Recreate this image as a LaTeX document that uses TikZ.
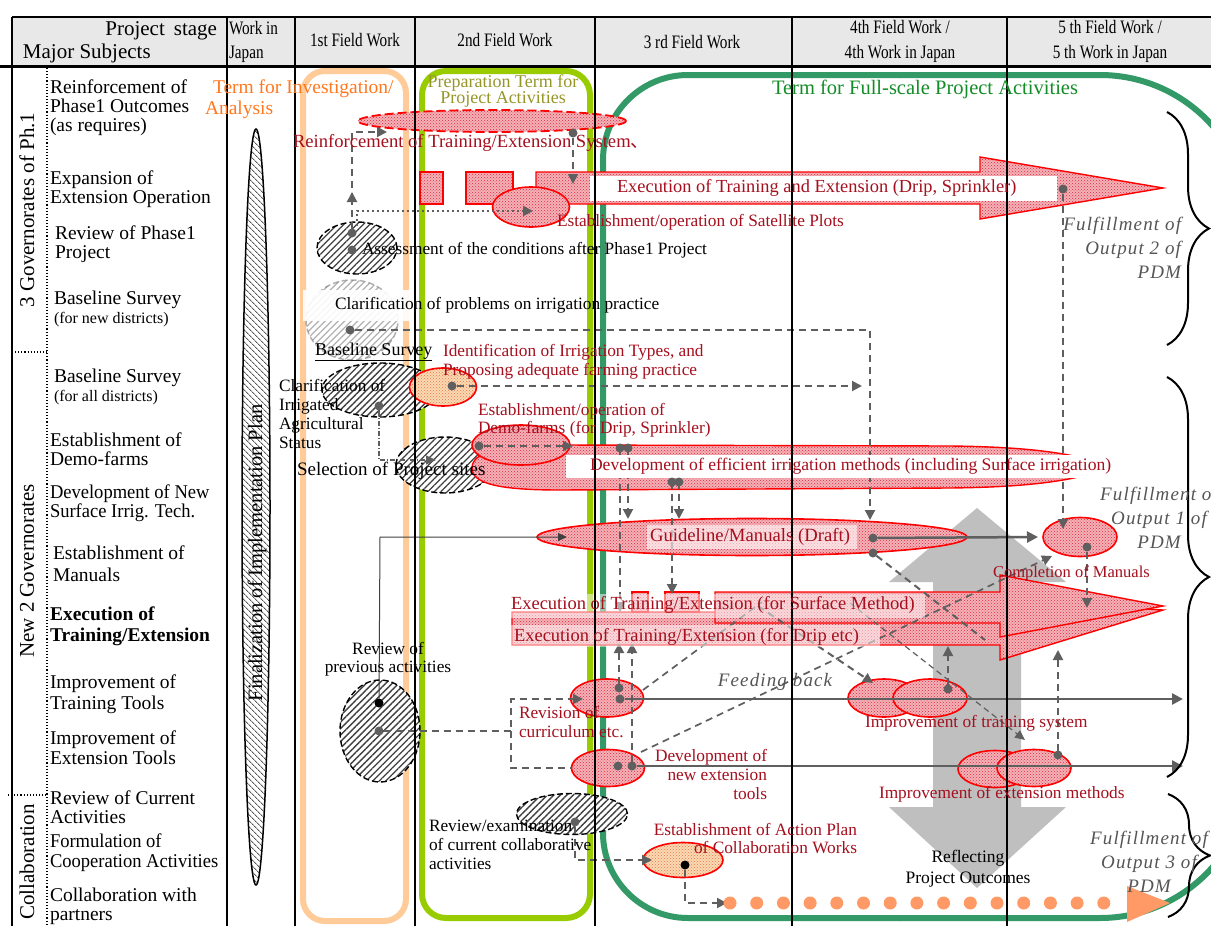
\documentclass[tikz,border=0pt]{standalone}
\usepackage{fontspec}
\setmainfont{Liberation Serif}
\newfontfamily\condfont[FakeStretch=0.8]{Liberation Serif}
\newfontfamily\semicond[FakeStretch=0.95]{Liberation Serif}
\newfontfamily\spacedfont[LetterSpace=6]{Liberation Serif}
\newfontfamily\cjkfont{Noto Sans CJK JP}
\usetikzlibrary{shapes.geometric,patterns,patterns.meta,arrows.meta,decorations.pathreplacing}
\newcommand\fsz[2]{\fontsize{#1}{#2}\selectfont}

\definecolor{hdrgray}{RGB}{232,232,232}
\definecolor{dred}{RGB}{165,15,30}
\definecolor{pinkc}{RGB}{243,178,184}
\definecolor{dotred}{RGB}{225,40,60}
\definecolor{peach}{RGB}{250,218,180}
\definecolor{dotorange}{RGB}{235,120,70}
\definecolor{termor}{RGB}{255,204,153}
\definecolor{termortext}{RGB}{255,120,30}
\definecolor{ygreen}{RGB}{153,204,0}
\definecolor{olivet}{RGB}{150,150,40}
\definecolor{fgreen}{RGB}{51,153,102}
\definecolor{fgreent}{RGB}{20,140,40}
\definecolor{cgray}{RGB}{95,95,95}
\definecolor{biggray}{RGB}{191,191,191}
\definecolor{odot}{RGB}{255,153,102}
\definecolor{itgray}{RGB}{85,85,85}

\tikzset{
  every node/.style={inner sep=0pt, outer sep=0pt},
  lab/.style={font=\fsz{19.5}{19}, align=left, anchor=west},
  hdr/.style={font=\condfont\fsz{19}{25}, align=center},
  rtxt/.style={text=dred, font=\fsz{17.3}{18.5}, align=left, anchor=west},
  btxt/.style={text=black, font=\fsz{17.3}{19}, align=left, anchor=west},
  redell/.style={ellipse, draw=red, line width=1.6pt, preaction={fill=pinkc}, pattern=crosshatch dots, pattern color=dotred},
  orell/.style={ellipse, draw=red, line width=1.6pt, preaction={fill=peach}, pattern=crosshatch dots, pattern color=dotorange},
  hatchell/.style={ellipse, draw=black, line width=1.4pt, dash pattern=on 6pt off 3pt, preaction={fill=white},
    pattern={Lines[angle=45, distance=4.6pt, line width=1.3pt]}, pattern color=black!75},
  redshape/.style={draw=red, line width=1.4pt, preaction={fill=pinkc}, pattern=crosshatch dots, pattern color=dotred},
  gdot/.style={circle, fill=cgray, minimum size=9pt},
  bdot/.style={circle, fill=black, minimum size=9pt},
  conn/.style={draw=cgray, line width=2pt, dash pattern=on 7pt off 5pt, -{Triangle[length=10pt,width=10pt]}},
  connn/.style={draw=cgray, line width=2pt, dash pattern=on 7pt off 5pt},
  solidconn/.style={draw=cgray, line width=2.5pt, -{Triangle[length=11pt,width=11pt]}},
  thinconn/.style={draw=cgray, line width=1.2pt, dash pattern=on 6pt off 4pt, -{Triangle[length=10pt,width=9pt]}},
  dotconn/.style={draw=cgray, line width=2pt, dash pattern=on 2pt off 3pt, -{Triangle[length=10pt,width=10pt]}},
  thinblack/.style={draw=black!75, line width=1pt, -{Triangle[length=9pt,width=8pt]}},
  fulf/.style={text=itgray, font=\spacedfont\itshape\fsz{19}{24}},
  bracestyle/.style={draw=black, line width=2pt, decorate, decoration={brace, amplitude=42pt}},
  gridline/.style={line width=1.5pt, black}
}

\begin{document}
\begin{tikzpicture}[x=1pt,y=-1pt]
\useasboundingbox (0,0) rectangle (1211,926);
\fill[white] (0,0) rectangle (1211,926);

% ---------------- header band
\fill[hdrgray] (12,17) rectangle (1211,66);

% ---------------- term frames
\draw[termor, line width=6pt, rounded corners=22pt] (303,71) rectangle (406,921);
\draw[ygreen, line width=6pt, rounded corners=24pt] (422,71) rectangle (590,918);
\draw[fgreen, line width=6pt, rounded corners=85pt] (900,75) -- (603,75) -- (603,918) -- (900,918);
\draw[fgreen, line width=6pt, rounded corners=150pt] (899,918) -- (1250,918) -- (1250,75) -- (899,75);

% ---------------- big grey two-way arrow
\fill[biggray] (977,508) -- (1066,582) -- (1021,582) -- (1021,807) -- (1066,807)
  -- (977,888) -- (889,807) -- (933,807) -- (933,582) -- (889,582) -- cycle;

% ---------------- work in Japan
\node[ellipse, draw=black, line width=1.5pt, preaction={fill=white},
  pattern={Lines[angle=-45, distance=4pt, line width=0.9pt]},
  pattern color=black!65, minimum width=28pt, minimum height=756pt] (fin) at (256,507) {};
\node[rotate=90, font=\fsz{20.5}{20}] (fintxt) at (257,553) {Finalization of Implementation Plan};

% ---------------- 1st field work: investigation items
\node[ellipse, draw=gray, line width=1.5pt, dash pattern=on 6pt off 3pt,
  pattern={Lines[angle=45, distance=4.6pt, line width=1.3pt]},
  pattern color=gray, opacity=0.6, minimum width=92pt, minimum height=80pt] (clp) at (352,320) {};
\node[hatchell, minimum width=80pt, minimum height=52pt] (assess) at (357,248) {};
\node[hatchell, minimum width=116pt, minimum height=54pt] (irrst) at (380,390) {};
\node[hatchell, minimum width=98pt, minimum height=56pt] (sel) at (445,465) {};
\node[hatchell, minimum width=80pt, minimum height=102pt] (rvp) at (380,731) {};
\node[hatchell, minimum width=111pt, minimum height=41pt] (rvc) at (572,814) {};

% ---------------- reinforcement of phase 1
\node[ellipse, draw=red, line width=1.8pt, dash pattern=on 9pt off 4pt, preaction={fill=pinkc},
  pattern=crosshatch dots, pattern color=dotred, minimum width=268pt, minimum height=22pt] (reinf) at (492,121) {};

% ---------------- execution of training and extension (drip, sprinkler)
\path[redshape] (420,172) rectangle (443,204);
\path[redshape] (466,172) rectangle (513,204);
\path[redshape] (536,172) -- (980,172) -- (980,157) -- (1163,188) -- (980,219) -- (980,204) -- (536,204) -- cycle;
\node[redell, minimum width=77pt, minimum height=40pt] (sat) at (531,207) {};

% ---------------- efficient irrigation methods
\path[redshape] (472,468) .. controls (472,452) and (500,445) .. (560,445) -- (950,446)
  .. controls (1040,447) and (1080,455) .. (1112,467)
  .. controls (1080,479) and (1040,487) .. (950,488) -- (560,490)
  .. controls (500,490) and (472,484) .. cycle;
\node[redell, minimum width=98pt, minimum height=40pt] (demo) at (521,445) {};
\node[orell, minimum width=67pt, minimum height=38pt] (irt) at (443,387) {};

% ---------------- manuals
\node[redell, minimum width=430pt, minimum height=37pt] (guide) at (752,537) {};
\node[redell, minimum width=74pt, minimum height=39pt] (comp) at (1080,537) {};

% ---------------- execution arrows (drip / surface)
\path[redshape] (512,612) -- (1000,612) -- (1000,600) -- (1163,610) -- (1000,660) -- (1000,645) -- (512,645) -- cycle;
\path[redshape] (632,592) rectangle (648,612);
\path[redshape] (665,592) rectangle (699,612);
\path[redshape] (715,592) -- (1000,592) -- (1000,575) -- (1163,606) -- (1000,637) -- (1000,623) -- (715,623) -- cycle;

% ---------------- tools and improvement
\node[redell, minimum width=73pt, minimum height=38pt] (rev) at (607,698) {};
\node[redell, minimum width=73pt, minimum height=37pt] (dvt) at (608,768) {};
\node[redell, minimum width=72pt, minimum height=38pt] (it1) at (884,698) {};
\node[redell, minimum width=74pt, minimum height=38pt] (it2) at (930,698) {};
\node[redell, minimum width=74pt, minimum height=37pt] (ie1) at (995,769) {};
\node[redell, minimum width=74pt, minimum height=37pt] (ie2) at (1034,768) {};
\node[orell, minimum width=80pt, minimum height=35pt] (ap) at (683,860) {};

% ---------------- dots
\node[gdot] (rd1) at (573,133) {};
\node[gdot] (as1) at (352,233) {};
\node[gdot] (as2) at (352,250) {};
\node[gdot] (cl1) at (350,330) {};
\node[gdot] (ir1) at (379,406) {};
\node[gdot] (it0) at (452,386) {};
\node[gdot] (dm1) at (479,446) {};
\node[gdot] (ex1) at (1063,189) {};
\node[gdot] (gd1) at (873,538) {};
\node[gdot] (gd2) at (873,553) {};
\node[gdot] (cp1) at (1087,547) {};
\node[gdot] (rva) at (619,688) {};
\node[gdot] (rvb) at (620,699) {};
\node[gdot] (dta) at (618,766) {};
\node[gdot] (dtb) at (632,766) {};
\node[gdot] (itd) at (948,689) {};
\node[gdot] (ied) at (1058,755) {};
\node[bdot] (rp1) at (379,703) {};
\node[gdot] (rp2) at (379,731) {};
\node[gdot] (rc1) at (575,822) {};
\node[bdot] (ap1) at (685,865) {};

% ---------------- free ends of connectors
\coordinate (reinfEnd) at (573,184);
\coordinate (asUp) at (352,192);
\coordinate (asStart) at (352,200);
\coordinate (asBend) at (352,132);
\coordinate (asEnd) at (387,132);
\coordinate (dotStart) at (357,226);
\coordinate (satIn) at (533,211);
\coordinate (gdTop) at (870,520);
\coordinate (irtEnd) at (862,386);
\coordinate (selIn) at (436,460);
\coordinate (demoEnd) at (573,446);
\coordinate (exS1) at (620,612);
\coordinate (gdA) at (628,519);
\coordinate (exS2) at (672,594);
\coordinate (gdB) at (679,519);
\coordinate (rvUp) at (380,537);
\coordinate (gdIn) at (567,537);
\coordinate (compIn) at (1038,537);
\coordinate (gdDiag) at (985,640);
\coordinate (cpDown) at (1087,608);
\coordinate (compTop) at (1063,529);
\coordinate (rvUpA) at (619,643);
\coordinate (rvRight) at (1183,699);
\coordinate (dtUp) at (632,643);
\coordinate (dtRight) at (1183,766);
\coordinate (rpMid) at (511,731);
\coordinate (revIn) at (583,699);
\coordinate (dtIn) at (572,768);
\coordinate (fbA1) at (643,690);
\coordinate (fbA2) at (762,602);
\coordinate (fbB1) at (758,606);
\coordinate (itIn) at (873,683);
\coordinate (fbC1) at (641,752);
\coordinate (cpIn) at (1052,556);
\coordinate (fbD1) at (850,603);
\coordinate (ieIn) at (1025,740);
\coordinate (itUp) at (948,646);
\coordinate (ieUp) at (1058,650);
\coordinate (apIn) at (652,860);
\coordinate (apOut) at (727,903);
\coordinate (dv1p) at (620,448);
\coordinate (dv2p) at (628,448);
\coordinate (dv3p) at (672,482);
\coordinate (dv4p) at (679,482);

% ---------------- connectors
\draw[conn] (rd1) -- (reinfEnd);
\draw[conn] (as1) -- (asUp);
\draw[conn] (asStart) -- (asBend) -- (asEnd);
\draw[dotconn] (dotStart) |- (satIn);
\draw[conn] (cl1) -| (gdTop);
\draw[conn] (it0) -- (irtEnd);
\draw[thinconn, dash pattern=on 5pt off 2pt on 1pt off 2pt] (ir1) |- (selIn);
\draw[conn] (dm1) -- (demoEnd);
\draw[conn] (dv1p) -- (exS1);
\draw[conn] (dv2p) -- (gdA);
\draw[conn] (dv3p) -- (exS2);
\draw[conn] (dv4p) -- (gdB);
\draw[thinblack] (rp1) -- (rvUp) -- (gdIn);
\draw[solidconn] (gd1) -- (compIn);
\draw[connn] (gd2) -- (gdDiag);
\draw[conn] (cp1) -- (cpDown);
\draw[conn] (ex1) -- (compTop);
\draw[conn] (rva) -- (rvUpA);
\draw[conn] (dtb) -- (dtUp);
\draw[conn] (rp2) -- (rpMid) |- (revIn);
\draw[connn] (rpMid) |- (dtIn);
\draw[connn, line width=1.7pt] (fbA1) -- (fbA2);
\draw[conn] (fbB1) -- (itIn);
\draw[conn, line width=1.7pt] (fbC1) -- (cpIn);
\draw[thinconn] (fbD1) -- (ieIn);
\draw[conn] (itd) -- (itUp);
\draw[conn] (ied) -- (ieUp);
\draw[conn] (rc1) |- (apIn);
\draw[conn] (ap1) |- (apOut);

% ---------------- white label boxes
\node[fill=white, anchor=west, minimum width=467pt, minimum height=25pt] (exlab) at (590,188) {};
\node[fill=white, anchor=west, minimum width=579pt, minimum height=23pt] (dvlab) at (566,466) {};
\node[fill=white, fill opacity=0.6, anchor=west, minimum width=210pt, minimum height=24pt] (gdlab) at (647,537) {};
\node[fill=white, fill opacity=0.5, anchor=west, minimum width=415pt, minimum height=24pt] (exslab) at (510,606) {};
\node[fill=white, fill opacity=0.5, anchor=west, minimum width=370pt, minimum height=22pt] (exdlab) at (510,636) {};
\fill[white, opacity=0.9] (303,290) rectangle (415,321);

% dots drawn above labels
\node[gdot] (dv1) at (dv1p) {};
\node[gdot] (dv2) at (dv2p) {};
\node[gdot] (dv3) at (dv3p) {};
\node[gdot] (dv4) at (dv4p) {};

% ---------------- long solid arrows
\draw[solidconn] (rvb) -- (rvRight);
\draw[solidconn] (dtb) -- (dtRight);

% ---------------- collaboration dotted arrow
\foreach \i in {0,...,14} { \fill[odot] (730+26.7*\i,903) circle (6.5); }
\fill[odot] (1127,886) -- (1170,903) -- (1127,922) -- cycle;

% ---------------- grid
\draw[line width=1.5pt] (12,17) -- (1211,17);
\draw[line width=2.5pt] (0,66.5) -- (1211,66.5);
\foreach \x in {12,227,295,415,595,792,1007} { \draw[gridline] (\x,17) -- (\x,926); }
\draw[line width=1.1pt, dotted] (47,68) -- (47,926);
\draw[line width=1.1pt, dotted] (12,352) -- (47,352);
\draw[line width=1.1pt, dotted] (8,795) -- (47,795);

% ---------------- header texts
\node[anchor=east, font=\fsz{21}{21}] (hps) at (217,31) {Project\hspace{9pt}stage};
\node[anchor=west, font=\fsz{21}{21}] (hms) at (23,53) {Major Subjects};
\node[hdr, align=left, anchor=west, font=\condfont\fsz{19}{24}] (hwj) at (229,42) {Work in\\Japan};
\node[hdr] (h1) at (355,40) {1st Field Work};
\node[hdr] (h2) at (505,40) {2nd Field Work};
\node[hdr] (h3) at (692,42) {3 rd Field Work};
\node[hdr] (h4) at (900,41) {4th Field Work /\\4th Work in Japan};
\node[hdr] (h5) at (1110,41) {5 th Field Work /\\5 th Work in Japan};

% ---------------- group labels
\node[rotate=90, font=\fsz{21}{21}] (g1) at (27,210) {3 Governorates of Ph.1};
\node[rotate=90, font=\fsz{21}{21}] (g2) at (27,571) {New 2 Governorates};
\node[rotate=90, font=\fsz{21}{21}] (g3) at (27,862) {Collaboration};

% ---------------- major subjects
\node[lab] (l1) at (50,108) {Reinforcement of\\Phase1 Outcomes\\(as requires)};
\node[lab] (l2) at (50,189) {Expansion of\\Extension Operation};
\node[lab] (l3) at (55,244) {Review of Phase1\\Project};
\node[lab] (l4) at (54,309) {Baseline Survey\\{\fsz{16}{18}(for new districts)}};
\node[lab] (l5) at (54,387) {Baseline Survey\\{\fsz{16}{18}(for all districts)}};
\node[lab] (l6) at (50,449) {Establishment of\\Demo-farms};
\node[lab, font=\semicond\fsz{19.5}{19}] (l7) at (50,503) {Development of New\\Surface Irrig. Tech.};
\node[lab] (l8) at (53,564) {Establishment of\\[3pt]Manuals};
\node[lab, font=\bfseries\fsz{19.5}{21}] (l9) at (50,626) {Execution of\\Training/Extension};
\node[lab, font=\fsz{19.5}{21}] (l10) at (50,694) {Improvement of\\Training Tools};
\node[lab, font=\fsz{19.5}{20}] (l11) at (50,748) {Improvement of\\Extension Tools};
\node[lab] (l12) at (50,807) {Review of Current\\Activities};
\node[lab, font=\semicond\fsz{19.5}{20}] (l13) at (50,853) {Formulation of\\Cooperation Activities};
\node[lab] (l14) at (50,906) {Collaboration with\\partners};

% ---------------- term labels
\node[anchor=west, text=termortext, font=\fsz{19.5}{20}] (tinv) at (213,89) {Term for Investigation/};
\node[anchor=west, text=termortext, font=\fsz{19.5}{20}] (tana) at (205,110) {Analysis};
\node[text=olivet, font=\fsz{18}{16}, align=center] (tprep) at (503,91) {Preparation Term for\\Project Activities};
\node[text=fgreent, font=\fsz{20.5}{20}] (tfull) at (925,89) {Term for Full-scale Project Activities};

% ---------------- activity texts
\node[rtxt, font=\fsz{18.6}{19}] (t-reinf) at (293,143) {Reinforcement of Training/Extension System{\cjkfont 、}};
\node[rtxt, font=\fsz{18.4}{19}] (t-exdrip) at (617,188) {Execution of Training and Extension (Drip, Sprinkler)};
\node[rtxt] (t-sat) at (557,222) {Establishment/operation of Satellite Plots};
\node[btxt] (t-assess) at (362,250) {Assessment of the conditions after Phase1 Project};
\node[btxt] (t-clp) at (335,305) {Clarification of problems on irrigation practice};
\node[btxt, font=\fsz{18}{19}] (t-bs) at (315,352) {\underline{Baseline Survey}};
\node[rtxt] (t-irt) at (443,362) {Identification of Irrigation Types, and\\Proposing adequate farming practice};
\node[btxt, font=\fsz{17.3}{19.3}] (t-irrst) at (279,414) {Clarification of\\Irrigated\\Agricultural\\Status};
\node[rtxt] (t-demo) at (478,420) {Establishment/operation of\\Demo-farms (for Drip, Sprinkler)};
\node[btxt, font=\fsz{19}{19}] (t-sel) at (297,471) {Selection of Project sites};
\node[rtxt, font=\fsz{17.6}{19}] (t-dev) at (590,466) {Development of efficient irrigation methods (including Surface irrigation)};
\node[text=dred, font=\fsz{18.7}{19}] (t-guide) at (750,537) {Guideline/Manuals (Draft)};
\node[rtxt, font=\fsz{16.5}{18}] (t-comp) at (993,573) {Completion of Manuals};
\node[rtxt, font=\fsz{18.5}{19}] (t-exs) at (511,605) {Execution of Training/Extension (for Surface Method)};
\node[rtxt, font=\fsz{18.5}{19}] (t-exd) at (514,637) {Execution of Training/Extension (for Drip etc)};
\node[btxt, align=center, anchor=center, font=\fsz{17.3}{18}] (t-rvp) at (388,659) {Review of\\previous activities};
\node[rtxt, font=\fsz{17.3}{19}] (t-rev) at (519,722) {Revision of\\curriculum etc.};
\node[rtxt, align=right, anchor=east, font=\fsz{17.3}{19}] (t-dvt) at (767,774) {Development of\\new extension\\tools};
\node[fulf, anchor=center] (t-fb) at (775,682) {Feeding back};
\node[rtxt] (t-it) at (865,723) {Improvement of training system};
\node[rtxt] (t-ie) at (879,794) {Improvement of extension methods};
\node[btxt, font=\fsz{17.3}{19}] (t-rvc) at (429,845) {Review/examination\\of current collaborative\\activities};
\node[rtxt, align=right, anchor=east, font=\fsz{17.3}{18}] (t-ap) at (857,839) {Establishment of Action Plan\\of Collaboration Works};
\node[align=center, font=\fsz{17.5}{21}] (t-refl) at (968,869) {Reflecting\\Project Outcomes};

% ---------------- outputs
\draw[bracestyle] (1167,112) -- (1167,345);
\draw[bracestyle] (1167,377) -- (1167,777);
\draw[bracestyle] (1168,794) -- (1168,917);
\node[fulf, align=right, anchor=east] (f2) at (1181,248) {Fulfillment of\\Output 2 of\\PDM};
\node[fulf, align=center] (f1) at (1159,518) {Fulfillment of\\Output 1 of\\PDM};
\node[fulf, align=center] (f3) at (1149,862) {Fulfillment of\\Output 3 of\\PDM};
\end{tikzpicture}
\end{document}
